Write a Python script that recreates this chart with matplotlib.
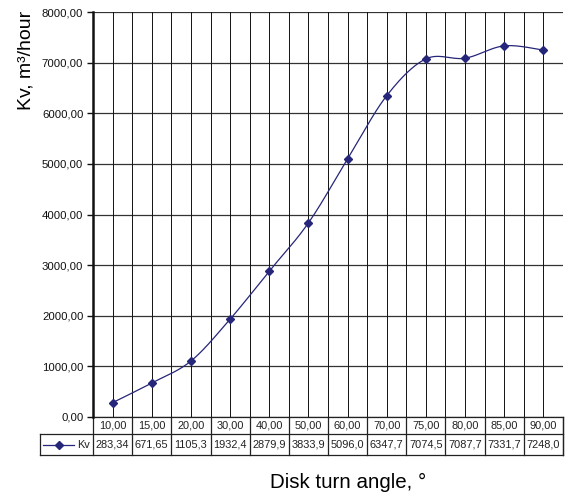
import matplotlib
matplotlib.use('Agg')
import matplotlib.pyplot as plt
import numpy as np

plt.rcParams['font.family'] = ['Liberation Sans', 'DejaVu Sans']

# data
angles = [10, 15, 20, 30, 40, 50, 60, 70, 75, 80, 85, 90]
kv = [283.34, 671.65, 1105.3, 1932.4, 2879.9, 3833.9, 5096.0, 6347.7,
      7074.5, 7087.7, 7331.7, 7248.0]
kv_labels = ['283,34', '671,65', '1105,3', '1932,4', '2879,9', '3833,9',
             '5096,0', '6347,7', '7074,5', '7087,7', '7331,7', '7248,0']
yticks = [0, 1000, 2000, 3000, 4000, 5000, 6000, 7000, 8000]

LINE_COLOR = '#26267a'


def smooth(xs, ys, yscale, n=30):
    # Excel-like smoothed line: cubic bezier, Catmull-Rom style control points
    px = np.asarray(xs, float)
    py = np.asarray(ys, float) * yscale
    P = np.column_stack([px, py])
    out = []
    for i in range(len(P) - 1):
        p0 = P[i - 1] if i > 0 else P[i]
        p1, p2 = P[i], P[i + 1]
        p3 = P[i + 2] if i + 2 < len(P) else P[i + 1]
        c1 = p1 + (p2 - p0) / 6
        c2 = p2 - (p3 - p1) / 6
        t = np.linspace(0, 1, n)[:, None]
        seg = ((1 - t) ** 3) * p1 + 3 * ((1 - t) ** 2) * t * c1 + 3 * (1 - t) * t ** 2 * c2 + t ** 3 * p2
        out.append(seg if i == 0 else seg[1:])
    out = np.vstack(out)
    return out[:, 0], out[:, 1] / yscale


def execute():
    fig = plt.figure(figsize=(5.65, 4.92), dpi=100)
    W, H = 565, 492
    left, right, top, bottom = 93, 563, 12, 417
    ax = fig.add_axes([left / W, 1 - bottom / H, (right - left) / W, (bottom - top) / H])

    xi = np.arange(len(angles))
    ax.set_xlim(-0.5, len(angles) - 0.5)
    ax.set_ylim(0, 8000)

    # grid
    for v in yticks:
        ax.axhline(v, color='#333333', lw=0.9, zorder=1)
    for xv in np.arange(-0.5, len(angles), 0.5):
        ax.axvline(xv, color='#111111', lw=0.7, zorder=1)

    # smoothed line in roughly isotropic pixel space
    px_per_cat = (right - left) / len(angles)
    yscale = (bottom - top) / 8000 / px_per_cat
    sx, sy = smooth(xi, kv, yscale)
    ax.plot(sx, sy, color=LINE_COLOR, lw=0.9, zorder=3)
    ax.plot(xi, kv, ls='none', marker='D', ms=4.5, color=LINE_COLOR, zorder=4)

    for s in ['top', 'right', 'bottom']:
        ax.spines[s].set_visible(False)
    ax.spines['left'].set_linewidth(1.8)
    ax.spines['left'].set_color('#111111')

    ax.set_yticks(yticks)
    ax.set_yticklabels([f'{v:.2f}'.replace('.', ',') for v in yticks], fontsize=8.2,
                       color='#222222')
    ax.tick_params(axis='y', length=4, width=1, pad=3, colors='#111111')
    ax.set_xticks([])

    # data table under the plot
    tr = ax.get_xaxis_transform()
    row_h = 1.0 / (bottom - top)
    y0 = 0
    y1 = -17 * row_h
    y2 = -38 * row_h
    xl_key = -0.5 - (left - 40) / px_per_cat
    xr = len(angles) - 0.5
    kw = dict(transform=tr, clip_on=False, color='#222222', lw=0.9)
    ax.plot([-0.5, xr], [y0, y0], **kw)
    ax.plot([xl_key, xr], [y1, y1], **kw)
    ax.plot([xl_key, xr], [y2, y2], **kw)
    ax.plot([xl_key, xl_key], [y1, y2], **kw)
    ax.plot([xr, xr], [y0, y2], **kw)
    for k in range(len(angles) + 1):
        ax.plot([k - 0.5, k - 0.5], [y0, y2], **kw)
    for k in range(len(angles)):
        ax.text(k, (y0 + y1) / 2, f'{angles[k]:.2f}'.replace('.', ','), transform=tr,
                ha='center', va='center', fontsize=7.9, color='#222222')
        ax.text(k, (y1 + y2) / 2, kv_labels[k], transform=tr,
                ha='center', va='center', fontsize=7.9, color='#222222')
    # legend key in the table
    ym = (y1 + y2) / 2
    ax.plot([xl_key + 0.08, -0.98], [ym, ym], transform=tr, clip_on=False,
            color=LINE_COLOR, lw=0.9)
    ax.plot([(xl_key + 0.08 - 0.98) / 2], [ym], transform=tr, clip_on=False,
            ls='none', marker='D', ms=4.5, color=LINE_COLOR)
    ax.text(-0.9, ym, 'Kv', transform=tr, ha='left', va='center', fontsize=7.9, color='#222222')

    fig.text(348 / W, 1 - 482 / H, 'Disk turn angle, °', ha='center', va='center', fontsize=14.8)
    fig.text(26 / W, 1 - 60 / H, 'Kv, m³/hour', ha='center', va='center', rotation=90, fontsize=14)

    fig.savefig('out.png', dpi=100)


if __name__ == '__main__':
    execute()
